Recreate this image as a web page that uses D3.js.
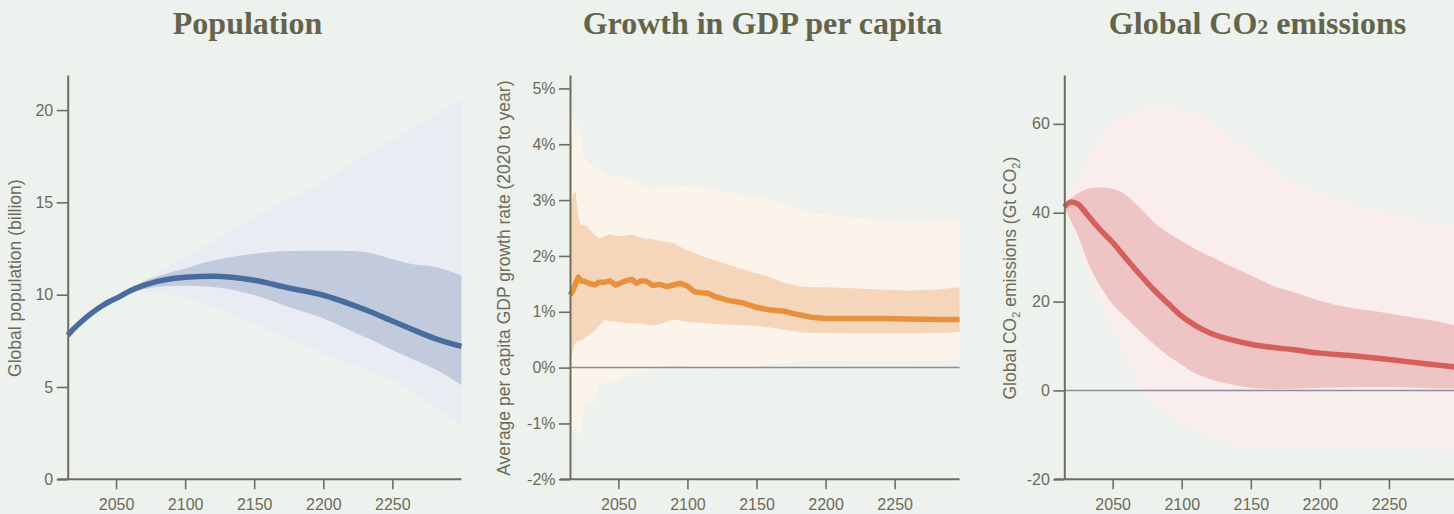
<!DOCTYPE html>
<html>
<head>
<meta charset="utf-8">
<script src="https://cdn.jsdelivr.net/npm/d3@7"></script>
<style>
  html, body { margin: 0; padding: 0; background: #eef2ee; }
  svg { display: block; }
  .tick text { font-family: "Liberation Sans", Arial, sans-serif; font-size: 16px; fill: #6b6b58; }
  .axis-title { font-family: "Liberation Sans", Arial, sans-serif; font-size: 17.5px; fill: #6b6b58; }
  .panel-title { font-family: "Liberation Serif", "Times New Roman", serif; font-weight: bold; font-size: 32px; fill: #64644c; }
</style>
</head>
<body>
<svg id="chart" width="1454" height="514"></svg>
<script>
// ---- Population (billion) ----
const popYears   = [2015, 2020, 2025, 2030, 2035, 2040, 2045, 2050, 2060, 2070, 2080, 2090, 2100, 2120,
                    2150, 2175, 2200, 2220, 2235, 2250, 2265, 2280, 2300];
const popMedian  = [7.8, 8.2, 8.55, 8.87, 9.15, 9.4, 9.62, 9.8, 10.2, 10.5, 10.72, 10.86, 10.94, 11.0,
                    10.78, 10.36, 9.97, 9.48, 9.05, 8.57, 8.1, 7.65, 7.2];
const popInnerLo = [7.8, 8.2, 8.55, 8.87, 9.15, 9.4, 9.6, 9.76, 10.1, 10.3, 10.42, 10.47, 10.48, 10.42,
                    9.98, 9.33, 8.72, 8.05, 7.54, 7.0, 6.5, 6.0, 5.1];
const popInnerHi = [7.8, 8.2, 8.55, 8.87, 9.15, 9.4, 9.64, 9.86, 10.32, 10.72, 11.0, 11.22, 11.42, 11.85,
                    12.22, 12.36, 12.38, 12.36, 12.24, 11.92, 11.65, 11.52, 11.05];
const popOuterLo = [7.8, 8.2, 8.55, 8.87, 9.15, 9.4, 9.58, 9.72, 10.02, 10.15, 10.1, 9.98, 9.8, 9.35,
                    8.44, 7.6, 6.8, 6.2, 5.8, 5.38, 4.7, 3.95, 2.95];
const popOuterHi = [7.8, 8.2, 8.55, 8.87, 9.15, 9.42, 9.68, 9.95, 10.4, 10.8, 11.2, 11.62, 12.05, 12.9,
                    14.2, 15.2, 16.1, 17.1, 17.75, 18.4, 19.05, 19.7, 20.6];
const popTicks   = [0, 5, 10, 15, 20];

// ---- Average per capita GDP growth rate (%) ----
const gdpYears   = [2015, 2017, 2019, 2021, 2023, 2025, 2027, 2030, 2033, 2036, 2040, 2044, 2048, 2052,
                    2056, 2060, 2063, 2066, 2070, 2075, 2080, 2085, 2090, 2095, 2100, 2105, 2110, 2115,
                    2120, 2130, 2140, 2150, 2160, 2170, 2180, 2190, 2200, 2220, 2240, 2260, 2280, 2297];
const gdpMedian  = [1.30, 1.38, 1.50, 1.62, 1.55, 1.55, 1.53, 1.50, 1.48, 1.53, 1.53, 1.55, 1.48, 1.52,
                    1.56, 1.58, 1.51, 1.55, 1.55, 1.47, 1.49, 1.45, 1.48, 1.51, 1.46, 1.36, 1.34, 1.33,
                    1.27, 1.20, 1.16, 1.08, 1.03, 1.01, 0.95, 0.90, 0.88, 0.88, 0.88, 0.87, 0.86, 0.86];
const gdpInnerLo = [0.10, 0.30, 0.45, 0.48, 0.48, 0.52, 0.55, 0.60, 0.66, 0.75, 0.85, 0.83, 0.82, 0.81,
                    0.80, 0.80, 0.79, 0.79, 0.77, 0.75, 0.78, 0.82, 0.86, 0.84, 0.82, 0.81, 0.80, 0.79,
                    0.78, 0.77, 0.76, 0.75, 0.72, 0.68, 0.64, 0.62, 0.62, 0.61, 0.61, 0.61, 0.62, 0.64];
const gdpInnerHi = [2.85, 3.10, 3.15, 2.70, 2.55, 2.55, 2.55, 2.45, 2.38, 2.31, 2.35, 2.39, 2.36, 2.35,
                    2.37, 2.38, 2.35, 2.33, 2.31, 2.30, 2.27, 2.25, 2.23, 2.16, 2.10, 2.05, 2.00, 1.96,
                    1.92, 1.84, 1.76, 1.69, 1.62, 1.52, 1.46, 1.44, 1.44, 1.42, 1.40, 1.38, 1.40, 1.44];
const gdpOuterLo = [-1.56, -1.10, -1.00, -1.29, -1.10, -0.70, -0.62, -0.60, -0.64, -0.31, -0.30, -0.28, -0.25, -0.18,
                    -0.14, -0.12, -0.10, -0.10, -0.06, 0.00, 0.02, 0.03, 0.04, 0.04, 0.02, -0.02, -0.05, -0.04,
                    -0.02, -0.01, 0.00, 0.02, 0.05, 0.08, 0.10, 0.12, 0.12, 0.11, 0.11, 0.11, 0.12, 0.14];
const gdpOuterHi = [4.76, 4.50, 4.10, 4.43, 4.10, 3.78, 3.72, 3.66, 3.60, 3.55, 3.50, 3.42, 3.40, 3.45,
                    3.43, 3.36, 3.32, 3.28, 3.24, 3.21, 3.24, 3.26, 3.26, 3.25, 3.25, 3.24, 3.24, 3.22,
                    3.19, 3.14, 3.08, 3.06, 3.02, 2.94, 2.86, 2.77, 2.74, 2.69, 2.64, 2.61, 2.63, 2.64];
const gdpTicks   = [-2, -1, 0, 1, 2, 3, 4, 5];

// ---- Global CO2 emissions (Gt CO2) ----
const co2Years   = [2015, 2020, 2025, 2030, 2035, 2040, 2050, 2060, 2070, 2080, 2090, 2100,
                    2110, 2120, 2135, 2150, 2165, 2180, 2200, 2220, 2240, 2260, 2280, 2300];
const co2Median  = [41.3, 42.4, 41.9, 40.2, 38.3, 36.5, 33.3, 29.6, 26.0, 22.6, 19.6, 16.7,
                    14.6, 13.0, 11.5, 10.4, 9.7, 9.2, 8.4, 7.9, 7.3, 6.6, 5.9, 5.2];
const co2InnerLo = [41.3, 38.0, 34.8, 30.5, 26.8, 24.0, 19.4, 16.3, 13.2, 10.4, 7.8, 5.8,
                    3.8, 2.6, 1.4, 0.6, 0.35, 0.4, 0.6, 0.7, 0.75, 0.7, 0.5, 0.4];
const co2InnerHi = [41.3, 43.2, 44.4, 45.2, 45.6, 45.7, 45.4, 43.9, 41.0, 37.8, 35.5, 33.6,
                    31.8, 30.3, 28.0, 25.9, 23.7, 22.2, 20.2, 18.7, 17.8, 16.8, 15.8, 14.5];
const co2OuterLo = [41.3, 37.5, 32.5, 28.2, 24.0, 20.3, 13.6, 7.0, 0.4, -3.0, -5.6, -7.4,
                    -9.0, -10.5, -12.0, -13.0, -13.1, -12.8, -12.6, -12.5, -12.6, -12.7, -13.2, -14.0];
const co2OuterHi = [41.3, 45.5, 48.6, 51.5, 54.0, 56.3, 59.8, 62.3, 63.8, 64.2, 64.0, 63.6,
                    62.2, 60.6, 57.3, 53.6, 50.1, 47.2, 45.0, 42.7, 40.7, 39.0, 38.0, 37.0];
const co2Ticks   = [-20, 0, 20, 40, 60];

const yearTicks  = [2050, 2100, 2150, 2200, 2250];

// ---- panel layout ----
const TOP = 75, BOTTOM = 479.3, PX_PER_YEAR = 1.3815;
const AXIS_COLOR = "#6e6e5a", ZERO_COLOR = "#8a8fa0";

const panels = [
  {
    title: [{t: "Population"}], titleX: 247.5,
    left: 67.7, yMax: 21.9, yMin: 0, ticks: popTicks, fmt: d => d,
    yTitle: [{t: "Global population (billion)"}], yTitleOffset: -46.5,
    years: popYears, med: popMedian, inLo: popInnerLo, inHi: popInnerHi, outLo: popOuterLo, outHi: popOuterHi,
    colors: {line: "#4a6b9d", inner: "#c1cbdd", outer: "#e9edf3"}, curve: d3.curveMonotoneX, zero: false
  },
  {
    title: [{t: "Growth in GDP per capita"}], titleX: 762.5,
    left: 570, yMax: 5.24, yMin: -2, ticks: gdpTicks, fmt: d => d + "%",
    yTitle: [{t: "Average per capita GDP growth rate (2020 to year)"}], yTitleOffset: -60.5,
    years: gdpYears, med: gdpMedian, inLo: gdpInnerLo, inHi: gdpInnerHi, outLo: gdpOuterLo, outHi: gdpOuterHi,
    colors: {line: "#e6913c", inner: "#f6d6ba", outer: "#fcf3ea"}, curve: d3.curveLinear, zero: true
  },
  {
    title: [{t: "Global CO"}, {t: "2", small: true}, {t: " emissions"}], titleX: 1257.5,
    left: 1064.3, yMax: 71, yMin: -20, ticks: co2Ticks, fmt: d => d,
    yTitle: [{t: "Global CO"}, {t: "2", sub: true}, {t: " emissions (Gt CO"}, {t: "2", sub: true}, {t: ")"}],
    yTitleOffset: -48.5,
    years: co2Years, med: co2Median, inLo: co2InnerLo, inHi: co2InnerHi, outLo: co2OuterLo, outHi: co2OuterHi,
    colors: {line: "#d45f5b", inner: "#eec4c4", outer: "#f9eded"}, curve: d3.curveMonotoneX, zero: true
  }
];

const svg = d3.select("#chart");
svg.append("rect").attr("width", 1454).attr("height", 514).attr("fill", "#eef2ee");

panels.forEach(p => {
  const x = d3.scaleLinear().domain([2015, 2300]).range([p.left, p.left + 285 * PX_PER_YEAR]);
  const y = d3.scaleLinear().domain([p.yMin, p.yMax]).range([BOTTOM, TOP]);
  const g = svg.append("g");
  const rows = p.years.map((yr, i) => ({yr, med: p.med[i], inLo: p.inLo[i], inHi: p.inHi[i], outLo: p.outLo[i], outHi: p.outHi[i]}));
  const xEnd = x(p.years[p.years.length - 1]);

  // uncertainty bands
  const band = (lo, hi) => d3.area().curve(p.curve).x(d => x(d.yr)).y0(d => y(d[lo])).y1(d => y(d[hi]));
  g.append("path").datum(rows).attr("d", band("outLo", "outHi")).attr("fill", p.colors.outer);
  g.append("path").datum(rows).attr("d", band("inLo", "inHi")).attr("fill", p.colors.inner);

  // zero reference line
  if (p.zero) {
    g.append("line").attr("x1", p.left).attr("x2", xEnd).attr("y1", y(0)).attr("y2", y(0))
      .attr("stroke", ZERO_COLOR).attr("stroke-width", 1.5);
  }

  // median line
  g.append("path").datum(rows)
    .attr("d", d3.line().curve(p.curve).x(d => x(d.yr)).y(d => y(d.med)))
    .attr("fill", "none").attr("stroke", p.colors.line).attr("stroke-width", 5.5)
    .attr("stroke-linejoin", "round");

  // y axis
  const ya = g.append("g").attr("transform", `translate(${p.left},0)`)
    .call(d3.axisLeft(y).tickValues(p.ticks).tickFormat(p.fmt).tickSize(11).tickSizeOuter(0).tickPadding(3.5));
  ya.select(".domain").attr("stroke", AXIS_COLOR).attr("stroke-width", 2);
  ya.selectAll(".tick line").attr("stroke", AXIS_COLOR).attr("stroke-width", 1.6);

  // x axis
  const xa = g.append("g").attr("transform", `translate(0,${BOTTOM})`)
    .call(d3.axisBottom(x).tickValues(yearTicks).tickFormat(d3.format("d")).tickSize(10).tickSizeOuter(0).tickPadding(9));
  xa.select(".domain").remove();
  xa.selectAll(".tick line").attr("stroke", AXIS_COLOR).attr("stroke-width", 1.6);
  xa.selectAll(".tick text").attr("dy", "0.71em");
  g.append("line").attr("x1", p.left - 10).attr("x2", xEnd).attr("y1", BOTTOM).attr("y2", BOTTOM)
    .attr("stroke", AXIS_COLOR).attr("stroke-width", 2);

  // y axis title
  const yt = g.append("text").attr("class", "axis-title")
    .attr("transform", `translate(${p.left + p.yTitleOffset},${(TOP + BOTTOM) / 2 + 1}) rotate(-90)`)
    .attr("text-anchor", "middle");
  p.yTitle.forEach((s, i) => {
    const ts = yt.append("tspan").text(s.t);
    const prev = i > 0 ? p.yTitle[i - 1] : null;
    if (s.sub) ts.attr("font-size", "11px").attr("dy", "4");
    else if (prev && prev.sub) ts.attr("dy", "-4");
  });

  // panel title
  const tt = svg.append("text").attr("class", "panel-title").attr("x", p.titleX).attr("y", 34)
    .attr("text-anchor", "middle");
  p.title.forEach(s => {
    const ts = tt.append("tspan").text(s.t);
    if (s.small) ts.attr("font-size", "22px");
  });
});
</script>
</body>
</html>
